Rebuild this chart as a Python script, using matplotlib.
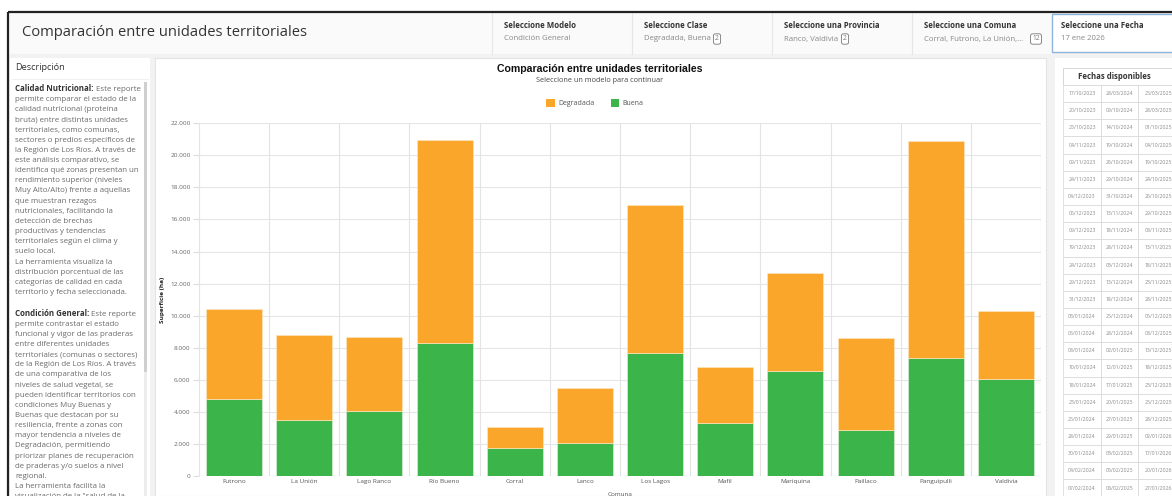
import numpy as np
import matplotlib
matplotlib.use('Agg')
import matplotlib.pyplot as plt
from matplotlib.patches import Rectangle, Patch
from matplotlib.ticker import FuncFormatter

#----- Data -----#

comunas   = ['Futrono', 'La Unión', 'Lago Ranco', 'Río Bueno', 'Corral', 'Lanco',
             'Los Lagos', 'Mafil', 'Mariquina', 'Paillaco', 'Panguipulli', 'Valdivia']
buena     = [4800, 3500, 4050, 8300, 1750, 2050, 7700, 3300, 6550, 2900, 7380, 6080]
total     = [10400, 8780, 8650, 20970, 3050, 5500, 16880, 6780, 12680, 8620, 20870, 10270]
degradada = [t - b for t, b in zip(total, buena)]

y_ticks   = [0, 2000, 4000, 6000, 8000, 10000, 12000, 14000, 16000, 18000, 20000, 22000]

filtros = [('Seleccione Modelo',        'Condición General',             None),
           ('Seleccione Clase',         'Degradada, Buena',              '2'),
           ('Seleccione una Provincia', 'Ranco, Valdivia',               '2'),
           ('Seleccione una Comuna',    'Corral, Futrono, La Unión,...', '12'),
           ('Seleccione una Fecha',     '17 ene 2026',                   None)]

desc_1 = ['Calidad Nutricional:', ' Este reporte',
          'permite comparar el estado de la',
          'calidad nutricional (proteína',
          'bruta) entre distintas unidades',
          'territoriales, como comunas,',
          'sectores o predios específicos de',
          'la Región de Los Ríos. A través de',
          'este análisis comparativo, se',
          'identifica qué zonas presentan un',
          'rendimiento superior (niveles',
          'Muy Alto/Alto) frente a aquellas',
          'que muestran rezagos',
          'nutricionales, facilitando la',
          'detección de brechas',
          'productivas y tendencias',
          'territoriales según el clima y',
          'suelo local.',
          'La herramienta visualiza la',
          'distribución porcentual de las',
          'categorías de calidad en cada',
          'territorio y fecha seleccionada.']

desc_2 = ['Condición General:', ' Este reporte',
          'permite contrastar el estado',
          'funcional y vigor de las praderas',
          'entre diferentes unidades',
          'territoriales (comunas o sectores)',
          'de la Región de Los Ríos. A través',
          'de una comparativa de los',
          'niveles de salud vegetal, se',
          'pueden identificar territorios con',
          'condiciones Muy Buenas y',
          'Buenas que destacan por su',
          'resiliencia, frente a zonas con',
          'mayor tendencia a niveles de',
          'Degradación, permitiendo',
          'priorizar planes de recuperación',
          'de praderas y/o suelos a nivel',
          'regional.',
          'La herramienta facilita la',
          'visualización de la "salud de la']

fechas_1 = ['17/10/2023', '20/10/2023', '25/10/2023', '04/11/2023', '09/11/2023', '24/11/2023',
            '04/12/2023', '06/12/2023', '09/12/2023', '19/12/2023', '24/12/2023', '29/12/2023',
            '31/12/2023', '03/01/2024', '05/01/2024', '08/01/2024', '10/01/2024', '18/01/2024',
            '23/01/2024', '25/01/2024', '28/01/2024', '30/01/2024', '04/02/2024', '07/02/2024']
fechas_2 = ['28/03/2024', '09/10/2024', '14/10/2024', '19/10/2024', '26/10/2024', '29/10/2024',
            '31/10/2024', '13/11/2024', '18/11/2024', '28/11/2024', '03/12/2024', '13/12/2024',
            '18/12/2024', '25/12/2024', '28/12/2024', '02/01/2025', '12/01/2025', '17/01/2025',
            '20/01/2025', '27/01/2025', '29/01/2025', '03/02/2025', '06/02/2025', '08/02/2025']
fechas_3 = ['25/03/2025', '28/03/2025', '01/10/2025', '04/10/2025', '19/10/2025', '24/10/2025',
            '26/10/2025', '29/10/2025', '08/11/2025', '13/11/2025', '18/11/2025', '23/11/2025',
            '28/11/2025', '05/12/2025', '08/12/2025', '13/12/2025', '18/12/2025', '23/12/2025',
            '25/12/2025', '28/12/2025', '02/01/2026', '17/01/2026', '20/01/2026', '27/01/2026']

#----- Style -----#

W, H       = 1172, 496
c_orange   = '#F9A62B'
c_green    = '#3BB44A'
ui_font    = ['Open Sans', 'DejaVu Sans']
chart_font = ['Liberation Sans', 'DejaVu Sans']

plt.rcParams['font.family'] = ui_font

fig = plt.figure(figsize=(W/100, H/100), dpi=100)
fig.patch.set_facecolor('white')

#----- Background layer in pixel coordinates -----#

bg = fig.add_axes([0, 0, 1, 1])
bg.set_xlim(0, W)
bg.set_ylim(H, 0)
bg.axis('off')

def box(x, y, w, h, fc, ec='none', lw=0.0, z=1):
	bg.add_patch(Rectangle((x, y), w, h, facecolor=fc, edgecolor=ec, linewidth=lw, zorder=z))

box(8, 12, W, H, '#f2f2f2')
bg.plot([8, W], [12, 12], color='#222222', lw=1.6, zorder=5, solid_capstyle='butt')
bg.plot([8, 8], [12, H], color='#222222', lw=1.6, zorder=5, solid_capstyle='butt')

# header
box(9, 13, 483, 41, '#fafafa')
box(492, 13, 560, 41, '#fafafa')
bg.text(22, 33, 'Comparación entre unidades territoriales', fontsize=10.6, color='#333333',
		va='center', ha='left')

count_x = [None, 85, 73, 124, None]
for i, (label, value, count) in enumerate(filtros[:4]):
	x0 = 492 + i*140
	bg.plot([x0, x0], [13, 54], color='#e6e6e6', lw=0.8, zorder=2)
	bg.text(x0 + 12, 26, label, fontsize=5.6, fontweight='bold', color='#333333', va='center')
	bg.text(x0 + 12, 39, value, fontsize=5.6, color='#888888', va='center')
	if count:
		bg.text(x0 + count_x[i], 39, count, fontsize=4.8, color='#777777', va='center', ha='center',
				bbox=dict(boxstyle='round,pad=0.25,rounding_size=0.3', fc='white', ec='#777777', lw=0.6))
box(1052, 14, 130, 38, '#ffffff', ec='#8db4dc', lw=1.0, z=3)
bg.text(1061, 26, filtros[4][0], fontsize=5.6, fontweight='bold', color='#333333', va='center', zorder=4)
bg.text(1061, 39, filtros[4][1], fontsize=5.6, color='#888888', va='center', zorder=4)

# left panel
box(10, 58, 140, H - 58, '#ffffff')
bg.text(15, 68, 'Descripción', fontsize=6.6, color='#333333', va='center')
bg.plot([12, 148], [79, 79], color='#eeeeee', lw=0.6, zorder=2)
box(143.5, 82, 3.5, H - 82, '#ededed', z=2)
box(143.5, 82, 3.5, 290, '#cfcfcf', z=3)

def paragraph(lines, y0, step=10.15, fs=5.65):
	head = bg.text(15, y0, lines[0], fontsize=fs, fontweight='bold', color='#333333',
				va='bottom', zorder=4)
	bg.annotate(lines[1], xy=(1, 0), xycoords=head, fontsize=fs, color='#6b6b6b',
				va='bottom', ha='left', zorder=4)
	for k, line in enumerate(lines[2:]):
		bg.text(15, y0 + (k + 1)*step, line, fontsize=fs, color='#6b6b6b', va='bottom', zorder=4)

paragraph(desc_1, 93)
paragraph(desc_2, 317.5)

# chart panel
box(155, 58, 891, H - 58, '#ffffff', ec='#e4e4e4', lw=0.8)

# right panel (table)
box(1055, 58, 130, H - 58, '#ffffff')
tx0, tx = 1063, [1063, 1101, 1138, 1175]
row0, row_h = 85, 17.15
box(tx0, 68, 130, 17, '#ffffff', ec='#d0d0d0', lw=0.6, z=2)
bg.text(1114, 76.5, 'Fechas disponibles', fontsize=5.6, fontweight='bold', color='#333333',
		va='center', ha='center', zorder=4)
for r in range(len(fechas_1)):
	y = row0 + r*row_h
	for c, col in enumerate([fechas_1, fechas_2, fechas_3]):
		box(tx[c], y, tx[c+1] - tx[c], row_h, '#ffffff', ec='#d6d6d6', lw=0.5, z=2)
		bg.text((tx[c] + tx[c+1])/2 + (2 if c == 2 else 0), y + row_h/2, col[r], fontsize=3.7,
				color='#8a8a8a', va='center', ha='center', zorder=4)

#----- Chart -----#

ax_l, ax_r, ax_t, ax_b = 199, 1041, 123.3, 476
ax = fig.add_axes([ax_l/W, 1 - ax_b/H, (ax_r - ax_l)/W, (ax_b - ax_t)/H])
ax.patch.set_alpha(0)

x = np.arange(len(comunas))
ax.bar(x, buena, width=0.8, color=c_green, edgecolor='#e6f2e0', linewidth=0.4, zorder=3, label='Buena')
ax.bar(x, degradada, bottom=buena, width=0.8, color=c_orange, edgecolor='#fde9c8', linewidth=0.4,
	zorder=3, label='Degradada')

ax.set_xlim(-0.5, len(comunas) - 0.5)
ax.set_ylim(0, 22000)
ax.set_yticks(y_ticks)
ax.yaxis.set_major_formatter(FuncFormatter(lambda v, p: f'{v:,.0f}'.replace(',', '.')))
ax.set_xticks(x)
ax.set_xticklabels(comunas, fontsize=4.6, color='#555555')
ax.set_xticks(np.arange(len(comunas) + 1) - 0.5, minor=True)
ax.tick_params(axis='x', which='both', length=0, pad=2)
ax.tick_params(axis='y', length=4, color='#dddddd', labelsize=4.6, labelcolor='#666666', pad=2)
ax.grid(axis='y', color='#e6e6e6', lw=0.8, zorder=0)
ax.grid(axis='x', which='minor', color='#e3e3e3', lw=0.8, zorder=0)
for s in ax.spines.values():
	s.set_visible(False)
ax.axhline(0, color='#cfcfcf', lw=0.8, zorder=2)

for lab in ax.get_xticklabels() + ax.get_yticklabels():
	lab.set_family(ui_font)

ax.set_ylabel('Superficie (ha)', fontsize=4.6, fontweight='bold', color='#222222', labelpad=4)
ax.set_xlabel('Comuna', fontsize=4.6, color='#555555', labelpad=6)

fig.text(600/W, 1 - 69/H, 'Comparación entre unidades territoriales', family=chart_font,
		fontsize=7.6, fontweight='bold', color='#111111', ha='center', va='center')
fig.text(600/W, 1 - 80.5/H, 'Seleccione un modelo para continuar', fontsize=5.2,
		color='#444444', ha='center', va='center')

handles = [Patch(facecolor=c_orange, label='Degradada'), Patch(facecolor=c_green, label='Buena')]
fig.legend(handles=handles, loc='center', bbox_to_anchor=(595/W, 1 - 103/H), ncol=2, frameon=False,
		fontsize=5.0, handlelength=1.2, handleheight=1.4, handletextpad=0.5, columnspacing=2.4,
		labelcolor='#555555')

fig.savefig('out.png', dpi=100)
